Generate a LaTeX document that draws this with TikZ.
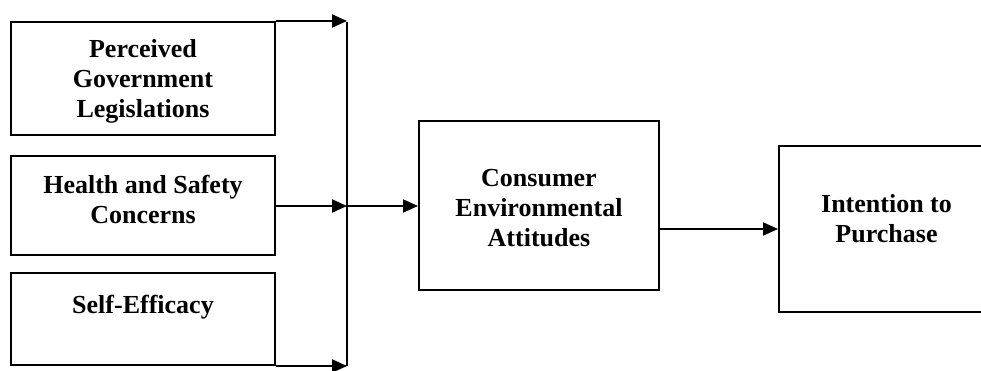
\documentclass[tikz,border=0pt]{standalone}
\usepackage{fontspec}
\setmainfont{Liberation Serif}
\usetikzlibrary{arrows.meta}

\begin{document}
\begin{tikzpicture}[x=0.5pt, y=0.5pt,
    box/.style={draw, line width=1pt, inner sep=0pt},
    boxtext/.style={anchor=north, align=center, inner sep=0pt,
        font=\bfseries\fontsize{13}{15}\selectfont},
    arr/.style={line width=1pt, -{Triangle[length=7.5pt, width=6.5pt]}}]

    % Fix the frame (the last box runs past the right edge)
    \clip (0,0) rectangle (981,370);

    % Boxes on the left
    \node[box, minimum width=132pt, minimum height=56.5pt] (gov) at (143,291.5) {};
    \node[box, minimum width=132pt, minimum height=49.5pt] (health) at (143,164) {};
    \node[box, minimum width=132pt, minimum height=46pt] (self) at (143,51) {};

    % Middle and right boxes
    \node[box, minimum width=120pt, minimum height=84.5pt] (attitude) at (539,164) {};
    \node[box, minimum width=107.5pt, minimum height=83pt] (intent) at (886.5,141) {};

    % Texts
    \node[boxtext] (gov-txt) at (143,331) {Perceived\\Government\\Legislations};
    \node[boxtext] (health-txt) at (143,195) {Health and Safety\\Concerns};
    \node[boxtext] (self-txt) at (143,75) {Self-Efficacy};
    \node[boxtext] (attitude-txt) at (539,201) {Consumer\\Environmental\\Attitudes};
    \node[boxtext] (intent-txt) at (886.5,176) {Intention to\\Purchase};

    % Vertical collecting line
    \coordinate (bus top) at (347,348);
    \coordinate (bus bot) at (347,4);
    \draw[line width=1pt] (bus top) -- (bus bot);

    % Arrows into the collecting line
    \draw[arr] (gov.north east) -- (gov.north east -| bus top);
    \draw[arr] (health.east) -- (health.east -| bus top);
    \draw[arr] (self.south east) -- (self.south east -| bus top);

    % Arrows to the right
    \draw[arr] (health.east -| bus top) -- (attitude.west);
    \draw[arr] (attitude.east |- intent.west) -- (intent.west);

\end{tikzpicture}
\end{document}
